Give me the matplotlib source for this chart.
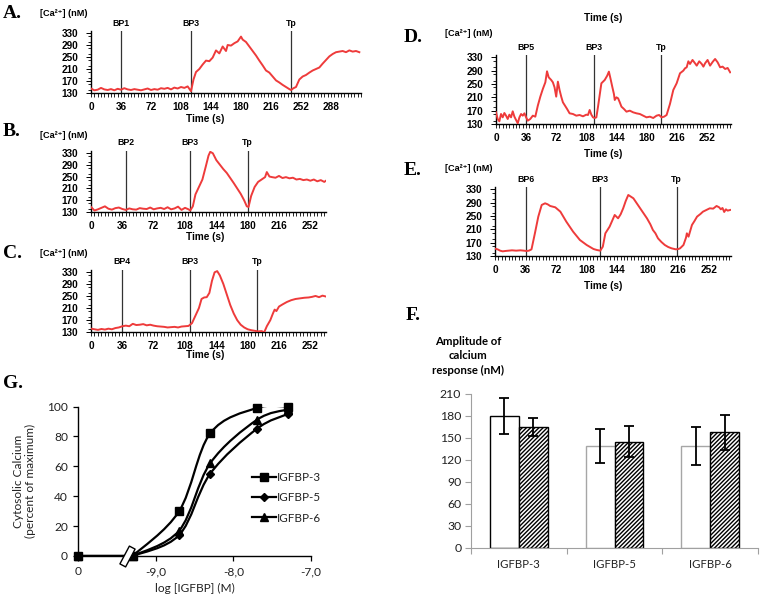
import numpy as np
import matplotlib
matplotlib.use("Agg")
import matplotlib.pyplot as plt
from matplotlib.path import Path
from matplotlib.patches import PathPatch
from matplotlib.ticker import MultipleLocator, FixedLocator, NullFormatter

# ---------------- data ----------------
# Panel A
tA = [0,4,8,12,16,20,24,28,32,36,40,44,48,52,56,60,64,68,72,76,80,84,88,92,96,100,104,108,112,116,120,
      123,126,130,134,138,142,146,148,150,154,158,162,164,168,172,176,180,182,186,190,194,198,202,206,210,
      214,218,222,226,230,234,238,240,243,246,250,254,258,262,266,270,274,278,282,286,290,294,298,302,306,
      310,314,318,322]
cA = [145,139,141,147,142,140,143,139,144,141,146,142,140,143,141,139,142,145,140,143,141,146,144,147,142,148,145,150,147,152,136,
      175,200,210,225,238,236,248,260,272,262,285,270,290,288,296,302,318,308,300,285,270,255,238,222,205,
      198,185,172,165,157,150,143,140,146,150,175,185,190,198,205,210,215,228,240,252,260,266,268,270,266,
      272,268,270,266]
eventsA = [36, 120, 240]
labelsA = ["BP1", "BP3", "Tp"]

# Panel B
tB = [0,4,8,12,16,20,24,28,32,36,40,44,48,52,56,60,64,68,72,76,80,84,88,92,96,100,104,108,112,
      114,117,120,124,128,132,135,137,140,144,148,152,156,160,164,168,172,176,179,181,184,188,192,196,200,
      202,205,208,212,216,220,224,228,232,236,240,244,248,252,256,260,264,268,270]
cB = [148,136,140,145,150,142,139,144,146,141,138,143,140,139,144,142,141,146,140,143,145,141,147,140,143,149,138,145,140,
      136,150,190,215,240,285,320,333,328,305,290,275,262,245,228,210,192,170,150,148,185,215,232,240,248,
      265,250,248,246,252,245,248,244,246,240,242,238,240,236,240,234,238,232,236]
eventsB = [40, 114, 180]
labelsB = ["BP2", "BP3", "Tp"]

# Panel C
tC = [0,4,8,12,16,20,24,28,32,36,40,44,48,52,56,60,64,68,72,76,80,84,88,92,96,100,104,108,112,
      116,120,124,127,130,133,136,139,142,145,148,152,156,160,164,168,172,176,180,184,188,192,196,199,
      202,206,209,211,213,216,220,225,230,235,240,245,250,254,258,262,266,270]
cC = [142,140,138,141,139,142,140,144,146,150,152,150,158,154,155,157,153,155,152,150,149,148,146,147,148,146,149,150,151,
      160,185,210,240,245,246,260,300,328,332,318,290,255,220,192,170,155,146,140,137,135,133,134,130,
      150,170,192,205,200,215,222,230,236,240,242,244,245,247,250,246,251,248]
eventsC = [36, 114, 191]
labelsC = ["BP4", "BP3", "Tp"]

# Panel D
tD = [0,2,4,6,8,10,12,14,16,18,20,22,24,26,28,30,32,34,36,38,41,44,47,50,53,56,59,61,63,66,68,70,72,74,76,78,80,82,85,88,
      92,96,100,104,108,110,112,114,116,118,120,122,126,130,133,135,137,139,141,142,144,146,148,150,153,156,160,164,168,
      172,176,180,184,188,192,195,198,201,204,208,212,216,220,224,226,228,230,232,235,238,240,243,246,248,250,253,256,
      259,262,265,268,271,274,277,280]
cD = [165,145,138,160,150,163,155,145,158,150,168,152,142,132,150,160,155,162,150,140,145,155,152,185,212,235,255,288,270,262,255,240,212,257,232,212,195,187,175,162,
      160,155,157,153,158,157,172,158,150,148,150,182,252,262,275,287,265,242,220,202,210,207,195,182,175,167,170,165,162,
      160,155,150,152,148,155,157,150,152,157,190,232,252,282,290,297,300,318,310,322,312,305,318,310,302,312,322,305,
      316,325,315,300,302,295,298,285]
eventsD = [36, 117, 197]
labelsD = ["BP5", "BP3", "Tp"]

# Panel E
tE = [0,3,6,9,12,16,20,25,30,34,37,40,43,47,51,55,59,62,65,71,77,84,92,100,108,116,120,124,127,130,135,141,145,148,151,
      154,157,160,163,167,171,175,179,183,186,189,192,196,200,204,208,213,216,218,222,225,226,228,232,235,238,242,245,
      249,253,257,261,264,266,268,270,272,274,277]
cE = [152,150,146,144,145,146,147,146,147,146,145,146,150,198,248,283,288,285,280,276,263,233,203,178,163,151,148,146,158,198,218,253,243,255,273,
      295,313,308,303,288,273,258,243,225,208,198,183,172,163,157,153,150,151,153,163,185,198,188,223,235,248,256,263,
      268,273,272,280,276,270,274,262,270,266,268]
eventsE = [36, 124, 214]
labelsE = ["BP6", "BP3", "Tp"]

# Panel G
g_x = [-10.0, -9.3, -8.7, -8.3, -7.7, -7.3]
g_igfbp3 = [0, 0, 30, 82, 99, 100]
g_igfbp5 = [0, 0, 14, 55, 85, 95]
g_igfbp6 = [0, 0, 17, 62, 91, 98]
g_break = -9.37
g_xticks = [-10, -9, -8, -7]
g_xticklabels = ["0", "-9,0", "-8,0", "-7,0"]

# Panel F
f_categories = ["IGFBP-3", "IGFBP-5", "IGFBP-6"]
f_open = [180, 139, 139]
f_open_err = [25, 23, 26]
f_hatched = [165, 145, 158]
f_hatched_err = [12.5, 21, 24]

# ---------------- figure ----------------
W, H = 762, 598
fig = plt.figure(figsize=(W / 100, H / 100), dpi=100)

def box(l, r, t, b):
    return [l / W, 1 - b / H, (r - l) / W, (b - t) / H]

def ftext(x, y, s, **kw):
    fig.text(x / W, 1 - y / H, s, **kw)

SANS = ["Liberation Sans", "DejaVu Sans"]
RED = "#ee3b3b"

def trace_panel(rect, t, c, events, labels, xmax, xticks):
    ax = fig.add_axes(rect)
    ax.plot(t, c, color=RED, lw=1.4, zorder=3)
    for ev, lab in zip(events, labels):
        ax.axvline(ev, color="#333333", lw=0.9, zorder=2)
        ax.annotate(lab, xy=(ev, 1), xycoords=("data", "axes fraction"),
                    xytext=(0, 8), textcoords="offset pixels", ha="center", va="center",
                    fontsize=6.3, fontweight="bold", family=SANS)
    ax.set_xlim(0, xmax)
    ax.set_ylim(130, 336)
    ax.set_xticks(xticks)
    ax.xaxis.set_minor_locator(MultipleLocator(4))
    ax.set_yticks([130, 170, 210, 250, 290, 330])
    ax.yaxis.set_minor_locator(MultipleLocator(20))
    for s in ["top", "right"]:
        ax.spines[s].set_visible(False)
    for s in ["left", "bottom"]:
        ax.spines[s].set_linewidth(1.0)
    ax.tick_params(axis="x", which="both", direction="out", length=2.9, width=0.6, pad=3.6)
    ax.tick_params(axis="y", which="major", direction="out", length=3.6, width=0.7, pad=5.5)
    ax.tick_params(axis="y", which="minor", direction="out", length=2.5, width=0.6)
    for lab in ax.get_xticklabels() + ax.get_yticklabels():
        lab.set_fontsize(7.2)
        lab.set_fontweight("bold")
        lab.set_family(SANS)
    return ax

trace_panel(box(91, 361, 31.2, 93), tA, cA, eventsA, labelsA, 324, list(range(0, 289, 36)))
trace_panel(box(91, 326, 150.9, 212.3), tB, cB, eventsB, labelsB, 270, list(range(0, 253, 36)))
trace_panel(box(91, 326, 269.9, 332.3), tC, cC, eventsC, labelsC, 270, list(range(0, 253, 36)))
trace_panel(box(496, 731, 55.3, 124), tD, cD, eventsD, labelsD, 281, list(range(0, 253, 36)))
trace_panel(box(495, 731, 187.3, 256), tE, cE, eventsE, labelsE, 278, list(range(0, 253, 36)))

small = dict(fontsize=6.6, fontweight="bold", family=SANS, va="center")
for (x, y) in [(40, 14), (40, 135), (40, 254), (445, 34), (445, 169)]:
    ftext(x, y, "[Ca²⁺] (nM)", ha="left", **small)
tlab = dict(fontsize=7.2, fontweight="bold", family=SANS, va="center", ha="center")
for (x, y) in [(205, 119), (205, 237), (205, 355), (603, 18), (603, 154), (603, 286)]:
    ftext(x, y, "Time (s)", **tlab)

letter = dict(fontsize=14, fontweight="bold", family=["Liberation Serif", "DejaVu Serif"], va="center", ha="left")
for (x, y, s) in [(3, 14, "A."), (3, 131, "B."), (3, 253, "C."), (404, 37, "D."), (404, 171, "E."),
                  (406, 315, "F."), (3, 383, "G.")]:
    ftext(x, y, s, **letter)

# ---------------- Panel G ----------------
GF = ["Lato", "DejaVu Sans"]
axg = fig.add_axes(box(78.3, 311, 406.5, 556))
axg.set_xlim(-10, -7)
axg.set_ylim(0, 100)
for s in ["top", "right"]:
    axg.spines[s].set_visible(False)
axg.spines["left"].set_linewidth(1.0)
axg.spines["bottom"].set_linewidth(1.0)
axg.set_xticks(g_xticks)
axg.set_xticklabels(g_xticklabels)
axg.set_yticks([0, 20, 40, 60, 80, 100])
axg.tick_params(direction="out", length=3.5, width=0.9, labelsize=8.6, pad=4)
for lab in axg.get_xticklabels() + axg.get_yticklabels():
    lab.set_family(GF)
    lab.set_color("#222222")
axg.set_xlabel("log [IGFBP] (M)", fontsize=8.6, family=GF, labelpad=4, color="#222222")
axg.set_ylabel("Cytosolic Calcium\n(percent of maximum)", fontsize=8.6, family=GF, labelpad=8,
               color="#222222", linespacing=1.1)
fig.canvas.draw()

def smooth_path(ax, xs, ys):
    pts = ax.transData.transform(np.column_stack([xs, ys]))
    n = len(pts)
    verts = [pts[0]]
    codes = [Path.MOVETO]
    for i in range(n - 1):
        p0 = pts[i - 1] if i > 0 else pts[i]
        p1 = pts[i]
        p2 = pts[i + 1]
        p3 = pts[i + 2] if i + 2 < n else pts[i + 1]
        verts += [p1 + (p2 - p0) / 6, p2 - (p3 - p1) / 6, p2]
        codes += [Path.CURVE4] * 3
    verts = ax.transData.inverted().transform(np.array(verts))
    return Path(verts, codes)

series = [(g_igfbp3, "s", 6.0, "IGFBP-3"), (g_igfbp5, "D", 4.0, "IGFBP-5"), (g_igfbp6, "^", 6.0, "IGFBP-6")]
handles = []
for ys, mk, ms, lab in series:
    axg.plot(g_x[:2], ys[:2], color="black", lw=1.6, zorder=3)
    axg.add_patch(PathPatch(smooth_path(axg, g_x[1:], ys[1:]), fill=False, ec="black", lw=1.6, zorder=3))
    axg.plot(g_x, ys, ls="none", marker=mk, ms=ms, color="black", zorder=4, clip_on=False)
    h, = axg.plot([], [], color="black", lw=1.6, marker=mk, ms=ms, label=lab)
    handles.append(h)

# tilted axis-break symbol
th = np.deg2rad(-28)
rect_pts = np.array([(-0.32, -1), (0.32, -1), (0.32, 1), (-0.32, 1), (-0.32, -1)])
rot = np.array([[np.cos(th), -np.sin(th)], [np.sin(th), np.cos(th)]])
brk_pts = rect_pts @ rot.T
brk = Path(brk_pts, [Path.MOVETO, Path.LINETO, Path.LINETO, Path.LINETO, Path.CLOSEPOLY])
axg.plot([g_break], [0], marker=brk, ms=15, mfc="white", mec="black", mew=1.0, zorder=6, clip_on=False)

leg = axg.legend(handles=handles, loc="center left", bbox_to_anchor=(0.745, 0.39), frameon=False,
                 borderpad=0, borderaxespad=0, handlelength=2.1, handletextpad=0.1, labelspacing=0.8,
                 prop={"family": GF, "size": 8.4})
for tx in leg.get_texts():
    tx.set_color("#222222")

# ---------------- Panel F ----------------
plt.rcParams["hatch.linewidth"] = 1.0
axf = fig.add_axes(box(471, 758, 394, 548))
x = np.arange(len(f_categories))
bw = 0.30
axf.bar(x - bw / 2, f_open, width=bw, color="white", edgecolor=["black", "#a6a6a6", "#a6a6a6"], lw=1.0, zorder=2)
axf.bar(x + bw / 2, f_hatched, width=bw, color="white", edgecolor="black", hatch="////////", lw=1.0, zorder=2)
axf.errorbar(x - bw / 2, f_open, yerr=f_open_err, fmt="none", ecolor="black", elinewidth=1.3,
             capsize=3.5, capthick=1.3, zorder=3)
axf.errorbar(x + bw / 2, f_hatched, yerr=f_hatched_err, fmt="none", ecolor="black", elinewidth=1.3,
             capsize=3.5, capthick=1.3, zorder=3)
axf.set_xlim(-0.5, 2.5)
axf.set_ylim(0, 210)
axf.set_yticks(range(0, 211, 30))
axf.xaxis.set_major_locator(FixedLocator([-0.5, 0.5, 1.5, 2.5]))
axf.xaxis.set_major_formatter(NullFormatter())
axf.xaxis.set_minor_locator(FixedLocator(list(x)))
axf.set_xticklabels(f_categories, minor=True)
axf.tick_params(axis="x", which="major", length=4, color="#a0a0a0")
axf.tick_params(axis="x", which="minor", length=0, pad=8, labelsize=8.2)
axf.tick_params(axis="y", length=4, color="#a0a0a0", labelsize=8.8, pad=3)
for s in ["top", "right"]:
    axf.spines[s].set_visible(False)
for s in ["left", "bottom"]:
    axf.spines[s].set_color("#a0a0a0")
for lab in axf.get_xticklabels(minor=True) + axf.get_yticklabels():
    lab.set_family(GF)
    lab.set_color("#222222")
ftext(468, 356, "Amplitude of\ncalcium\nresponse (nM)", ha="center", va="center", fontsize=8.2,
      fontweight="bold", family=GF, linespacing=1.4)

fig.savefig("out.png", dpi=100)
